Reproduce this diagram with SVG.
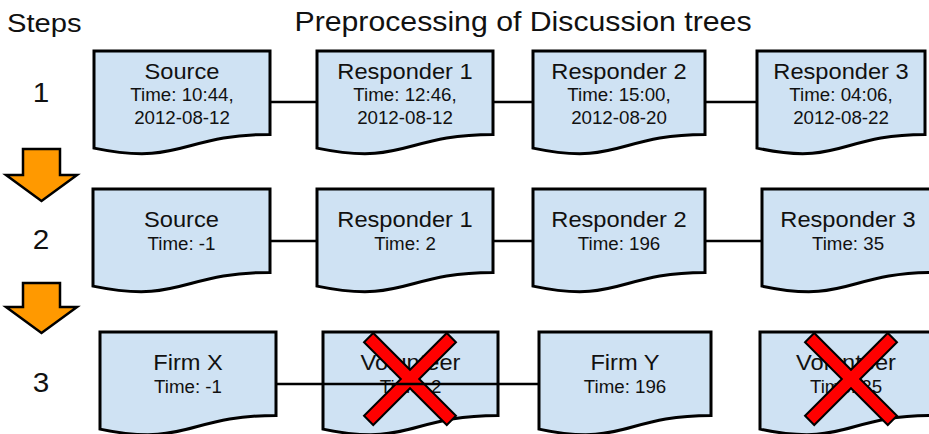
<svg xmlns="http://www.w3.org/2000/svg" width="929" height="434" viewBox="0 0 929 434">
  <style>
    .doc { fill: #cfe2f3; stroke: #000; stroke-width: 3; stroke-linejoin: miter; }
    .link { fill: none; stroke: #000; stroke-width: 2.5; }
    .step-arrow { fill: #ff9900; stroke: #000; stroke-width: 2.5; stroke-linejoin: miter; }
    .cross { fill: #ff0000; stroke: #000; stroke-width: 2; stroke-linejoin: miter; }
    text { font-family: "Liberation Sans", Arial, sans-serif; fill: #111; }
    .head { font-size: 26.5px; }
    .num { font-size: 27px; text-anchor: middle; }
    .name { font-size: 21.5px; text-anchor: middle; }
    .time { font-size: 17.5px; text-anchor: middle; }
  </style>
  <defs>
    <!-- X mark: a plus sign turned 45 degrees -->
    <polygon id="xmark" class="cross" points="6.5,6.5 58.5,6.5 58.5,-6.5 6.5,-6.5 6.5,-58.5 -6.5,-58.5 -6.5,-6.5 -58.5,-6.5 -58.5,6.5 -6.5,6.5 -6.5,58.5 6.5,58.5" transform="rotate(45)"/>
  </defs>

  <rect width="929" height="434" fill="#fff"/>

  <!-- headings -->
  <text class="head" transform="translate(7 32) scale(1.1 1)">Steps</text>
  <text class="head" transform="translate(523 31) scale(1.1 1)" text-anchor="middle" style="font-size:27.5px">Preprocessing of Discussion trees</text>

  <!-- step numbers and arrows -->
  <g id="steps">
    <text class="num" transform="translate(41 102) scale(1.1 1)">1</text>
    <text class="num" transform="translate(41 249) scale(1.1 1)">2</text>
    <text class="num" transform="translate(41 392) scale(1.1 1)">3</text>
    <polygon class="step-arrow" points="23,149 60,149 60,175 77,175 41.5,201 6,175 23,175"/>
    <polygon class="step-arrow" points="23,283 60,283 60,307 77,307 41.5,333 6,307 23,307"/>
  </g>

  <!-- row 1 -->
  <g id="r1-source">
    <path class="doc" d="M94 51 H270 V134.4 C182 134.4 182 166.2 94 148.1 Z"/>
    <text class="name" transform="translate(182 79) scale(1.1 1)">Source</text>
    <text class="time" transform="translate(182 101) scale(1.07 1)">Time: 10:44,</text>
    <text class="time" transform="translate(182 124) scale(1.07 1)">2012-08-12</text>
  </g>
  <g id="r1-responder1">
    <path class="doc" d="M317 51 H493 V134.4 C405 134.4 405 166.2 317 148.1 Z"/>
    <text class="name" transform="translate(405 79) scale(1.1 1)">Responder 1</text>
    <text class="time" transform="translate(405 101) scale(1.07 1)">Time: 12:46,</text>
    <text class="time" transform="translate(405 124) scale(1.07 1)">2012-08-12</text>
  </g>
  <g id="r1-responder2">
    <path class="doc" d="M533 51 H705 V134.4 C619 134.4 619 166.2 533 148.1 Z"/>
    <text class="name" transform="translate(619 79) scale(1.1 1)">Responder 2</text>
    <text class="time" transform="translate(619 101) scale(1.07 1)">Time: 15:00,</text>
    <text class="time" transform="translate(619 124) scale(1.07 1)">2012-08-20</text>
  </g>
  <g id="r1-responder3">
    <path class="doc" d="M757 51 H925 V134.4 C841 134.4 841 166.2 757 148.1 Z"/>
    <text class="name" transform="translate(841 79) scale(1.1 1)">Responder 3</text>
    <text class="time" transform="translate(841 101) scale(1.07 1)">Time: 04:06,</text>
    <text class="time" transform="translate(841 124) scale(1.07 1)">2012-08-22</text>
  </g>

  <!-- row 2 -->
  <g id="r2-source">
    <path class="doc" d="M93 189 H270 V272.4 C181.5 272.4 181.5 304.2 93 286.1 Z"/>
    <text class="name" transform="translate(181.5 227) scale(1.1 1)">Source</text>
    <text class="time" transform="translate(181.5 250) scale(1.07 1)">Time: -1</text>
  </g>
  <g id="r2-responder1">
    <path class="doc" d="M317 189 H493 V272.4 C405 272.4 405 304.2 317 286.1 Z"/>
    <text class="name" transform="translate(405 227) scale(1.1 1)">Responder 1</text>
    <text class="time" transform="translate(405 250) scale(1.07 1)">Time: 2</text>
  </g>
  <g id="r2-responder2">
    <path class="doc" d="M533 189 H705 V272.4 C619 272.4 619 304.2 533 286.1 Z"/>
    <text class="name" transform="translate(619 227) scale(1.1 1)">Responder 2</text>
    <text class="time" transform="translate(619 250) scale(1.07 1)">Time: 196</text>
  </g>
  <g id="r2-responder3">
    <path class="doc" d="M762 189 H934 V272.4 C848 272.4 848 304.2 762 286.1 Z"/>
    <text class="name" transform="translate(848 227) scale(1.1 1)">Responder 3</text>
    <text class="time" transform="translate(848 250) scale(1.07 1)">Time: 35</text>
  </g>

  <!-- row 3 -->
  <g id="r3-firmx">
    <path class="doc" d="M100 332 H276 V415.4 C188 415.4 188 447.2 100 429.1 Z"/>
    <text class="name" transform="translate(188 370) scale(1.1 1)">Firm X</text>
    <text class="time" transform="translate(188 393) scale(1.07 1)">Time: -1</text>
  </g>
  <g id="r3-volunteer1">
    <path class="doc" d="M323 332 H498 V415.4 C410.5 415.4 410.5 447.2 323 429.1 Z"/>
    <text class="name" transform="translate(410.5 370) scale(1.1 1)">Volunteer</text>
    <text class="time" transform="translate(410.5 393) scale(1.07 1)">Time: 2</text>
    <use href="#xmark" transform="translate(410 379)"/>
  </g>
  <g id="r3-firmy">
    <path class="doc" d="M539 332 H711 V415.4 C625 415.4 625 447.2 539 429.1 Z"/>
    <text class="name" transform="translate(625 370) scale(1.1 1)">Firm Y</text>
    <text class="time" transform="translate(625 393) scale(1.07 1)">Time: 196</text>
  </g>
  <g id="r3-volunteer2">
    <path class="doc" d="M760 332 H932 V415.4 C846 415.4 846 447.2 760 429.1 Z"/>
    <text class="name" transform="translate(846 370) scale(1.1 1)">Volunteer</text>
    <text class="time" transform="translate(846 393) scale(1.07 1)">Time: 35</text>
    <use href="#xmark" transform="translate(851 379)"/>
  </g>

  <!-- connectors -->
  <g id="connectors">
    <line class="link" x1="270" y1="102" x2="317" y2="102"/>
    <line class="link" x1="493" y1="102" x2="533" y2="102"/>
    <line class="link" x1="705" y1="102" x2="757" y2="102"/>
    <line class="link" x1="270" y1="241" x2="317" y2="241"/>
    <line class="link" x1="493" y1="241" x2="533" y2="241"/>
    <line class="link" x1="705" y1="241" x2="762" y2="241"/>
    <line class="link" x1="276" y1="384" x2="539" y2="384"/>
  </g>
</svg>
